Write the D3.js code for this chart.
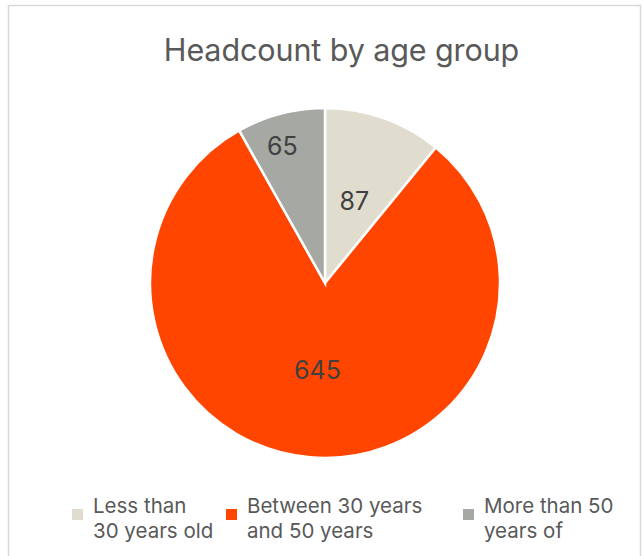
<!DOCTYPE html>
<meta charset="utf-8">
<style>
body { margin: 0; background: #fff; }
text { font-family: Inter, "Noto Sans", sans-serif; }
</style>
<svg width="643" height="556"></svg>
<script src="https://d3js.org/d3.v7.min.js"></script>
<script>

var categories = ["Less than 30 years old", "Between 30 years and 50 years", "More than 50 years of"];
var legendLines = [["Less than", "30 years old"], ["Between 30 years", "and 50 years"], ["More than 50", "years of"]];
var values = [87, 645, 65];
var colors = ["#e0ddcf", "#ff4500", "#a5a8a3"];

var svg = d3.select("svg"),
    width = +svg.attr("width"),
    height = +svg.attr("height");

// card border
svg.append("rect")
    .attr("x", 8.5).attr("y", 5.5)
    .attr("width", 632).attr("height", 560)
    .attr("fill", "#fff")
    .attr("stroke", "#d9d9d9")
    .attr("stroke-width", 1.5);

svg.append("text")
    .attr("x", 341.5).attr("y", 61)
    .attr("text-anchor", "middle")
    .attr("font-size", 30.5)
    .attr("letter-spacing", -0.1)
    .attr("fill", "#595959")
    .text("Headcount by age group");

var cx = 325, cy = 283, radius = 175;

var data = categories.map(function(c, i) { return {name: c, value: values[i], color: colors[i]}; });

var pie = d3.pie().sort(null).value(function(d) { return d.value; });
var arc = d3.arc().innerRadius(0).outerRadius(radius);

var g = svg.append("g").attr("transform", "translate(" + cx + "," + cy + ")");

var arcs = pie(data);

g.selectAll("path")
    .data(arcs)
    .enter().append("path")
      .attr("d", arc)
      .attr("fill", function(d) { return d.data.color; })
      .attr("stroke", "#fff")
      .attr("stroke-width", 2.5);

g.selectAll("text.lbl")
    .data(arcs)
    .enter().append("text")
      .attr("class", "lbl")
      .attr("transform", function(d) {
        var small = d.endAngle - d.startAngle < 0.6;
        var r = small ? radius * 0.82 : radius * 0.5;
        var a = (d.startAngle + d.endAngle) / 2 - (small ? 0.045 : 0);
        return "translate(" + (Math.sin(a) * r) + "," + (-Math.cos(a) * r) + ")";
      })
      .attr("text-anchor", "middle")
      .attr("dy", "0.36em")
      .attr("font-size", 25)
      .attr("fill", "#404040")
      .text(function(d) { return d.data.value; });

// legend
var legendX = [72, 226, 463];
var leg = svg.selectAll("g.leg")
    .data(data)
    .enter().append("g")
      .attr("class", "leg")
      .attr("transform", function(d, i) { return "translate(" + legendX[i] + ",0)"; });

leg.append("rect")
    .attr("x", 0).attr("y", 509)
    .attr("width", 11).attr("height", 11)
    .attr("fill", function(d) { return d.color; });

leg.append("text")
    .attr("y", 513)
    .attr("font-size", 20.5)
    .attr("fill", "#595959")
    .selectAll("tspan")
    .data(function(d, i) { return legendLines[i]; })
    .enter().append("tspan")
      .attr("x", 21)
      .attr("dy", function(d, j) { return j ? 25 : 0; })
      .text(function(d) { return d; });

</script>
